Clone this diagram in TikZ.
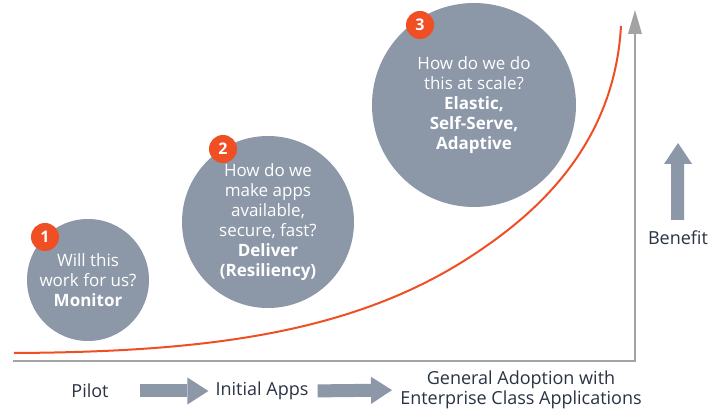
\documentclass[tikz,border=0pt]{standalone}
\usepackage{fontspec}
\setmainfont{Open Sans}
\usetikzlibrary{arrows.meta}
\definecolor{bubblegray}{HTML}{8C97A8}
\definecolor{accent}{HTML}{F04E23}
\definecolor{axisgray}{HTML}{A3A3A3}
\definecolor{ink}{HTML}{2A3344}
\tikzset{
  bubble/.style={circle, fill=bubblegray, text=white, inner sep=0pt, align=center,
    font=\fontsize{17}{20}\selectfont},
  badge/.style={circle, fill=accent, text=white, minimum size=28pt, inner sep=0pt,
    font=\fontsize{16}{16}\selectfont\bfseries},
  steplabel/.style={text=ink, align=center, inner sep=0pt, font=\fontsize{18}{20}\selectfont},
  flow/.style={draw=bubblegray, line width=13pt,
    -{Triangle[width=27pt,length=21pt,line width=0pt]}},
  axisline/.style={draw=axisgray, line width=2.5pt}
}
\begin{document}
\begin{tikzpicture}[x=1pt,y=-1pt]
\useasboundingbox (0,0) rectangle (713,411);
\fill[white] (0,0) rectangle (713,411);

% axes
\draw[axisline] (13,361) -- (635,361) -- (635,30);
\fill[axisgray] (628,34) -- (642,34) -- (635,10) -- cycle;

% growth curve
\draw[accent, line width=2pt] (14,353) .. controls (200,352) and (350,335) .. (470,257)
  .. controls (530,218) and (614,150) .. (621,26);

% bubbles
\node[bubble, minimum size=122pt] (b1) at (88,280)
  {Will this\\work for us?\\\textbf{Monitor}};
\node[badge] (n1) at (45,237) {1};

\node[bubble, minimum size=172pt] (b2) at (268,222)
  {How do we\\make apps\\available,\\secure, fast?\\\textbf{Deliver}\\\textbf{(Resiliency)}};
\node[badge] (n2) at (223,149) {2};

\node[bubble, minimum size=204pt] (b3) at (474,105)
  {How do we do\\this at scale?\\\textbf{Elastic,}\\\textbf{Self-Serve,}\\\textbf{Adaptive}};
\node[badge] (n3) at (420,25) {3};

% benefit arrow
\fill[bubblegray] (671,220) -- (671,164) -- (664,164) -- (678,143) -- (692,164)
  -- (684,164) -- (684,220) -- cycle;
\node[steplabel] (benefit) at (678,238) {Benefit};

% stages
\node[steplabel] (pilot) at (90,391) {Pilot};
\node[steplabel] (initial) at (262,391) {Initial Apps};
\node[steplabel] (general) at (521,390) {General Adoption with\\Enterprise Class Applications};

\draw[flow, shorten <=31pt, shorten >=7pt] (pilot.east) -- (initial.west);
\draw[flow, shorten <=9pt, shorten >=8pt] (initial.east) -- (general.west);
\end{tikzpicture}
\end{document}
